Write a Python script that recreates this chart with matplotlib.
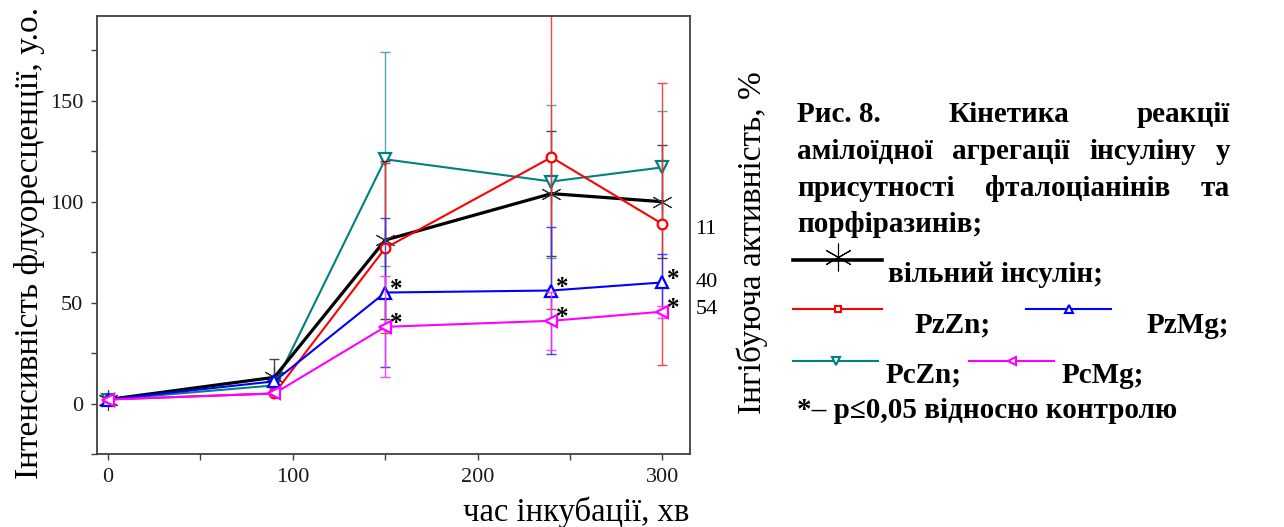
import matplotlib.pyplot as plt
from matplotlib.ticker import MultipleLocator

plt.rcParams['font.family'] = ['Liberation Serif', 'DejaVu Serif']

# час інкубації, хв
time = [0, 90, 150, 240, 300]

# інтенсивність флуоресценції, у.о. (середнє та похибка)
free_ins = [2, 13, 81, 104, 100]
free_ins_err = [1, 9, 39, 31, 28]
pz_zn = [2, 5, 77, 122, 89]
pz_zn_err = [1, 1.5, 42, 75, 70]
pz_mg = [2, 11, 55, 56, 60]
pz_mg_err = [1, 1.5, 37, 31.5, 14]
pc_zn = [2, 9, 121, 110, 117]
pc_zn_err = [1, 1.5, 53, 38, 28]
pc_mg = [2, 5, 38, 41, 45.5]
pc_mg_err = [1, 1.5, 25, 14.5, 3]

# точки з p<=0,05
signif_idx = [2, 3, 4]

# інгібуюча активність, %
inhib_labels = ['11', '40', '54']

W, H = 1284, 527
fig = plt.figure(figsize=(W / 100, H / 100), dpi=100)
ax = fig.add_axes([97 / W, 1 - 454 / H, (690 - 97) / W, (454 - 16) / H])

styles = [
    (pc_zn, pc_zn_err, '#008080', '#40a0a0', 'v', 1.5, 8),
    (free_ins, free_ins_err, 'black', '#333333', (6, 2, 0), 2.3, 15),
    (pz_zn, pz_zn_err, '#ff0000', '#ff3030', 'o', 1.5, 7),
    (pz_mg, pz_mg_err, '#0000ff', '#3030ff', '^', 1.5, 8),
    (pc_mg, pc_mg_err, '#ff00ff', '#ff30ff', '<', 1.5, 8),
]
for vals, err, col, ecol, mk, lw, ms in styles:
    ax.errorbar(time, vals, yerr=err, fmt='none', ecolor=ecol, elinewidth=1,
                capsize=3.5, capthick=1, alpha=0.9)
    if mk == (6, 2, 0):
        ax.plot(time, vals, color=col, lw=lw)
        ax.plot(time, vals, ls='none', marker=mk, ms=ms, mec='#333333', mew=0.8)
    else:
        ax.plot(time, vals, color=col, lw=lw, marker=mk, ms=ms, mfc='white',
                mec=col, mew=1.6)

for series in (pz_mg, pc_mg):
    for i in signif_idx:
        ax.annotate('*', (time[i], series[i]), xytext=(3.5, -2.5), textcoords='offset points',
                    fontsize=18, fontweight='bold', ha='left', va='baseline')

for lab, series, dy in zip(inhib_labels, (pz_zn, pz_mg, pc_mg), (-3, 0, 1)):
    ax.text(318, series[-1] + dy, lab, fontsize=16, ha='left', va='center',
            clip_on=False)

ax.set_xlim(-6, 315)
ax.set_ylim(-25, 192)
ax.xaxis.set_major_locator(MultipleLocator(100))
ax.xaxis.set_minor_locator(MultipleLocator(50))
ax.yaxis.set_major_locator(MultipleLocator(50))
ax.yaxis.set_minor_locator(MultipleLocator(25))
ax.tick_params(which='both', direction='out', length=4, width=1, color='#404040',
               labelsize=16, labelcolor='#1a1a1a', pad=6)
for sp in ax.spines.values():
    sp.set_color('#404040')
    sp.set_linewidth(1.3)

fig.text(30 / W, 1 - 243 / H, 'Інтенсивність флуоресценції, у.о.', rotation=90,
         ha='center', va='center', fontsize=24)
fig.text(689 / W, 1 - 512 / H, 'час інкубації, хв', ha='right', va='center', fontsize=23.5)
fig.text(752 / W, 1 - 243 / H, 'Інгібуюча активність, %', rotation=90,
         ha='center', va='center', fontsize=24)

# текстовий блок з підписом рисунка (координати в пікселях)
tx = fig.add_axes([0, 0, 1, 1])
tx.set_xlim(0, W)
tx.set_ylim(H, 0)
tx.axis('off')
bold = dict(fontsize=21, fontweight='bold', va='baseline')
renderer = fig.canvas.get_renderer()


def justify(words, x0, x1, y):
    objs = [tx.text(0, y, w, **bold) for w in words]
    widths = [o.get_window_extent(renderer).width for o in objs]
    gap = (x1 - x0 - sum(widths)) / (len(words) - 1)
    x = x0
    for o, w in zip(objs, widths):
        o.set_x(x)
        x += w + gap


justify(['Рис. 8.', 'Кінетика', 'реакції'], 797, 1230, 122)
justify(['амілоїдної', 'агрегації', 'інсуліну', 'у'], 797, 1230, 159)
justify(['присутності', 'фталоціанінів', 'та'], 797, 1230, 196)
tx.text(797, 232, 'порфіразинів;', **bold)


def sample(x0, x1, y, col, mk, lw, ms, mew):
    tx.plot([x0, x1], [y, y], color=col, lw=lw)
    if mk == (6, 2, 0):
        tx.plot([(x0 + x1) / 2], [y - 3], ls='none', marker=mk, ms=ms, mec=col, mew=mew)
    else:
        tx.plot([(x0 + x1) / 2], [y], ls='none', marker=mk, ms=ms, mfc='white',
                mec=col, mew=mew)


sample(793, 882, 260, 'black', (6, 2, 0), 2.6, 20, 0.8)
sample(793, 882, 309, '#ff0000', 's', 1.5, 5, 1.5)
sample(1026, 1111, 309, '#0000ff', '^', 1.5, 6, 1.5)
sample(793, 878, 361, '#008080', 'v', 1.5, 6, 1.5)
sample(969, 1054, 361, '#ff00ff', '<', 1.5, 6, 1.5)

tx.text(888, 282, 'вільний інсулін;', **bold)
tx.text(915, 333, 'PzZn;', **bold)
tx.text(1229, 333, 'PzMg;', ha='right', **bold)
tx.text(886, 383, 'PcZn;', **bold)
tx.text(1062, 383, 'PcMg;', **bold)
tx.text(797, 418, '*– p≤0,05 відносно контролю', **bold)

fig.savefig('out.png', dpi=100)
